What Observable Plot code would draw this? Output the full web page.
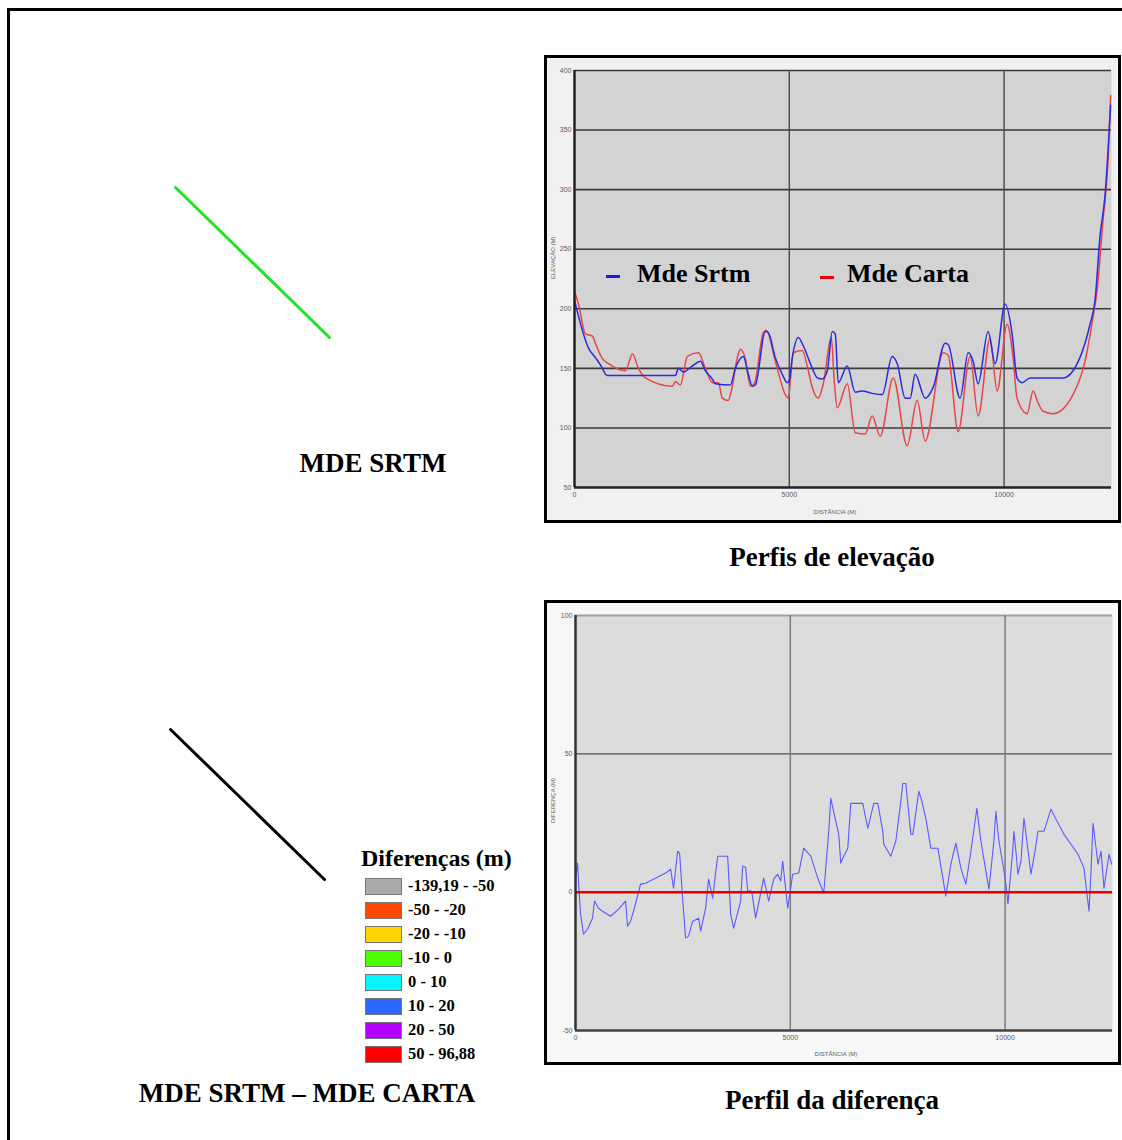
<!DOCTYPE html>
<html>
<head>
<meta charset="utf-8">
<script src="https://cdn.jsdelivr.net/npm/d3@7"></script>
<script src="https://cdn.jsdelivr.net/npm/@observablehq/plot@0.6"></script>
<style>
  body { margin: 0; background: #fff; }
  #page { position: relative; width: 1122px; height: 1140px; overflow: hidden;
          font-family: "Liberation Serif", "Times New Roman", serif; }
  .abs { position: absolute; }
  .outer { left: 7px; top: 8px; width: 1140px; height: 1160px; border: 3px solid #000; box-sizing: border-box; }
  .t { font-weight: bold; white-space: nowrap; line-height: 1; color: #000; }
  .c { transform: translateX(-50%); }
  .frame { border: 3px solid #000; line-height: 0; }
  .frame svg { display: block; }
  .sw { width: 37px; height: 17px; border: 1px solid #777; box-sizing: border-box; }
</style>
</head>
<body>
<div id="page">
  <div class="abs outer"></div>
  <div class="abs" id="mapTop" style="left:170px;top:182px"></div>
  <div class="abs" id="mapBottom" style="left:165px;top:724px"></div>
  <div class="abs t c" style="left:373px;top:450px;font-size:27px">MDE SRTM</div>
  <div class="abs t c" style="left:307px;top:1080px;font-size:27px">MDE SRTM – MDE CARTA</div>
  <div class="abs t" style="left:361px;top:846px;font-size:24px">Diferenças (m)</div>
  <div id="legend"></div>

  <div class="abs frame" id="chartTop" style="left:544px;top:55px"></div>
  <div class="abs frame" id="chartBottom" style="left:544px;top:600px"></div>

  <div class="abs" style="left:606px;top:275px;width:14px;height:3px;background:#1a1ae6"></div>
  <div class="abs t" style="left:637px;top:261px;font-size:26px">Mde Srtm</div>
  <div class="abs" style="left:820px;top:276px;width:14px;height:3px;background:#e60000"></div>
  <div class="abs t" style="left:847px;top:261px;font-size:26px">Mde Carta</div>

  <div class="abs t c" style="left:832px;top:544px;font-size:27px">Perfis de elevação</div>
  <div class="abs t c" style="left:832px;top:1087px;font-size:27px">Perfil da diferença</div>
</div>
<script>
// ---------- data ----------
const distTicks = [0, 5000, 10000];
const elevTicks = [50, 100, 150, 200, 250, 300, 350, 400];
const diffTicks = [-50, 0, 50, 100];

const srtmDist = [0,326,488,651,721,767,2349,2419,2535,2744,2930,3047,3209,3279,3628,3744,3930,4047,4140,4209,4442,4512,4674,4837,4953,5000,5070,5209,5326,5535,5651,5767,5884,6000,6070,6140,6349,6535,6698,6930,7163,7395,7512,7698,7814,7930,8163,8349,8628,8698,8977,9163,9279,9395,9628,9791,10023,10186,10302,10419,10605,11372,11605,12000,12116,12233,12349,12480];
const srtmElev = [207,167,159,150,145,144,144,150,147,152,156,148,141,137,136,150,160,145,135,136,181,180,159,145,138,140,159,176,169,150,142,141,148,181,179,138,152,130,131,129,128,160,154,125,125,145,125,134,171,170,125,163,156,137,181,154,204,179,142,138,142,142,148,187,207,261,295,371];

const cartaDist = [0,93,256,419,488,651,791,1186,1349,1488,1651,2279,2349,2465,2628,2884,3047,3209,3349,3442,3581,3651,3791,3860,3977,4093,4186,4395,4465,4674,4907,4977,5093,5302,5442,5535,5674,5791,5977,6047,6116,6349,6535,6767,6930,7116,7419,7744,7977,8163,8581,8698,8930,9209,9395,9674,9837,10070,10209,10302,10535,10674,10791,10907,11140,11605,11884,12070,12163,12302,12419,12480];
const cartaElev = [215,204,179,177,171,158,154,148,162,150,142,135,139,136,160,163,150,138,138,125,123,131,159,166,158,135,137,180,182,156,128,125,163,165,148,134,125,137,176,139,117,137,96,95,110,93,142,85,123,89,163,161,97,160,110,175,131,187,159,125,112,131,121,114,112,128,156,193,215,274,324,379];

const diffDist = [0,47,70,117,186,280,396,443,536,629,816,1002,1165,1212,1282,1351,1515,1631,2097,2214,2283,2377,2423,2493,2563,2633,2726,2866,2913,3029,3099,3192,3309,3542,3612,3681,3845,3891,3961,4008,4101,4194,4380,4497,4613,4707,4777,4823,4940,5056,5196,5312,5476,5639,5778,5895,5942,6058,6128,6175,6244,6338,6408,6687,6804,6943,7037,7153,7176,7340,7456,7573,7619,7689,7806,7852,7992,8062,8155,8272,8435,8621,8738,8854,8971,9087,9204,9343,9437,9553,9623,9739,9786,9856,9949,10019,10066,10136,10182,10205,10252,10299,10369,10438,10508,10602,10695,10765,10904,11068,11184,11370,11534,11697,11836,11953,12000,12046,12069,12163,12233,12302,12419,12480];
const diffVal = [4.7,10.5,4.0,-7.9,-15.2,-13.4,-9.4,-3.2,-5.8,-6.9,-8.7,-6.1,-3.2,-12.3,-10.5,-6.9,2.9,3.2,6.9,8.3,1.4,14.8,14.1,-2.2,-16.6,-15.9,-10.5,-9.4,-14.1,-5.8,4.7,-2.2,13.0,13.0,-7.9,-13.0,-3.2,9.4,9.0,0.4,0.4,-9.4,5.1,-3.2,4.7,6.5,4.0,11.2,-5.8,6.5,6.9,15.9,13.0,5.1,-0.4,22.0,33.9,25.6,20.9,10.5,13.0,15.9,32.1,32.1,23.1,32.1,32.1,22.0,17.3,13.0,18.4,32.9,39.3,39.3,20.9,20.9,36.5,32.9,26.7,15.9,15.9,-1.4,10.1,17.7,8.7,2.9,14.8,30.3,18.4,7.6,1.1,18.4,29.2,18.4,10.1,2.9,-4.3,7.6,15.9,22.0,14.8,6.5,11.2,26.7,18.4,6.5,14.8,22.0,22.0,30.0,26.4,20.9,17.3,13.7,8.7,-6.9,7.6,24.9,22.0,10.1,14.8,1.4,13.7,10.1];

const legendLabels = ["-139,19 - -50", "-50 - -20", "-20 - -10", "-10 - 0", "0 - 10", "10 - 20", "20 - 50", "50 - 96,88"];
const legendColors = ["#aaaaaa", "#ff4800", "#ffd500", "#4cff00", "#08f4ff", "#2a68ff", "#b400ff", "#ff0000"];

// profile track (map units, metres): start NW, end SE
const trackE = [0, 8950];
const trackN = [8720, 0];

// ---------- build ----------
const zip = (a, b) => a.map((d, i) => ({d, v: b[i]}));
const srtm = zip(srtmDist, srtmElev);
const carta = zip(cartaDist, cartaElev);
const diff = zip(diffDist, diffVal);
const track = trackE.map((e, i) => ({e, n: trackN[i]}));
const fmt = d => String(d);

const tickStyle = {fontFamily: "Arial, 'Liberation Sans', sans-serif", fontSize: "7px", color: "#5a5a5a", overflow: "visible"};

const topChart = Plot.plot({
  width: 571, height: 462,
  marginLeft: 27, marginRight: 7, marginTop: 12, marginBottom: 33,
  style: {...tickStyle, background: "#f1f1f1"},
  x: {domain: [0, 12500]},
  y: {domain: [50, 400]},
  marks: [
    Plot.frame({fill: "#d3d3d3", stroke: null}),
    Plot.ruleY(elevTicks.slice(1), {stroke: "#3a3a3a", strokeWidth: 1.6}),
    Plot.ruleX(distTicks.slice(1), {stroke: "#484848", strokeWidth: 1.4}),
    Plot.line(carta, {x: "d", y: "v", stroke: "#e84545", strokeWidth: 1.5, curve: "monotone-x"}),
    Plot.line(srtm, {x: "d", y: "v", stroke: "#2a2ae0", strokeWidth: 1.5, curve: "monotone-x"}),
    Plot.ruleX([0], {stroke: "#222", strokeWidth: 2.5}),
    Plot.ruleY([50], {stroke: "#222", strokeWidth: 2.5}),
    Plot.axisY(elevTicks, {tickSize: 0, tickPadding: 3, label: null, tickFormat: fmt}),
    Plot.axisX(distTicks, {tickSize: 0, tickPadding: 5, label: null, tickFormat: fmt}),
    Plot.text(["ELEVAÇÃO (M)"], {frameAnchor: "left", rotate: -90, dx: -21, fontSize: 6}),
    Plot.text(["DISTÂNCIA (M)"], {frameAnchor: "bottom", dy: 26, dx: -8, fontSize: 6})
  ]
});
document.getElementById("chartTop").append(topChart);

const bottomChart = Plot.plot({
  width: 571, height: 459,
  marginLeft: 28, marginRight: 6, marginTop: 12, marginBottom: 32,
  style: {...tickStyle, background: "#f7f7f7"},
  x: {domain: [0, 12500]},
  y: {domain: [-50, 100]},
  marks: [
    Plot.frame({fill: "#dcdcdc", stroke: null}),
    Plot.ruleY([100], {stroke: "#a0a0a0", strokeWidth: 2}),
    Plot.ruleY([50], {stroke: "#5e4a5e", strokeWidth: 1.4}),
    Plot.ruleX(distTicks.slice(1), {stroke: "#7c7c7c", strokeWidth: 1.5}),
    Plot.line(diff, {x: "d", y: "v", stroke: "#5a5aff", strokeWidth: 1.1}),
    Plot.ruleY([0], {stroke: "#e00000", strokeWidth: 2.5}),
    Plot.ruleX([0], {stroke: "#333", strokeWidth: 2.5}),
    Plot.ruleY([-50], {stroke: "#444", strokeWidth: 2.5}),
    Plot.axisY(diffTicks, {tickSize: 0, tickPadding: 3, label: null, tickFormat: fmt}),
    Plot.axisX(distTicks, {tickSize: 0, tickPadding: 5, label: null, tickFormat: fmt}),
    Plot.text(["DIFERENÇA (M)"], {frameAnchor: "left", rotate: -90, dx: -22, fontSize: 6}),
    Plot.text(["DISTÂNCIA (M)"], {frameAnchor: "bottom", dy: 25, dx: -8, fontSize: 6})
  ]
});
document.getElementById("chartBottom").append(bottomChart);

function trackMap(color) {
  return Plot.plot({
    width: 164, height: 160, margin: 5,
    x: {domain: [0, 8950], axis: null},
    y: {domain: [0, 8720], axis: null},
    marks: [Plot.line(track, {x: "e", y: "n", stroke: color, strokeWidth: 3})]
  });
}
document.getElementById("mapTop").append(trackMap("#1ee61e"));
document.getElementById("mapBottom").append(trackMap("#000"));

const legend = document.getElementById("legend");
legendLabels.forEach((lab, i) => {
  const cy = 886 + 24 * i;
  const sw = document.createElement("div");
  sw.className = "abs sw";
  sw.style.left = "365px"; sw.style.top = (cy - 8.5) + "px"; sw.style.background = legendColors[i];
  legend.append(sw);
  const tx = document.createElement("div");
  tx.className = "abs t";
  tx.style.left = "408px"; tx.style.top = (cy - 8) + "px"; tx.style.fontSize = "16.5px";
  tx.textContent = lab;
  legend.append(tx);
});
</script>
</body>
</html>
